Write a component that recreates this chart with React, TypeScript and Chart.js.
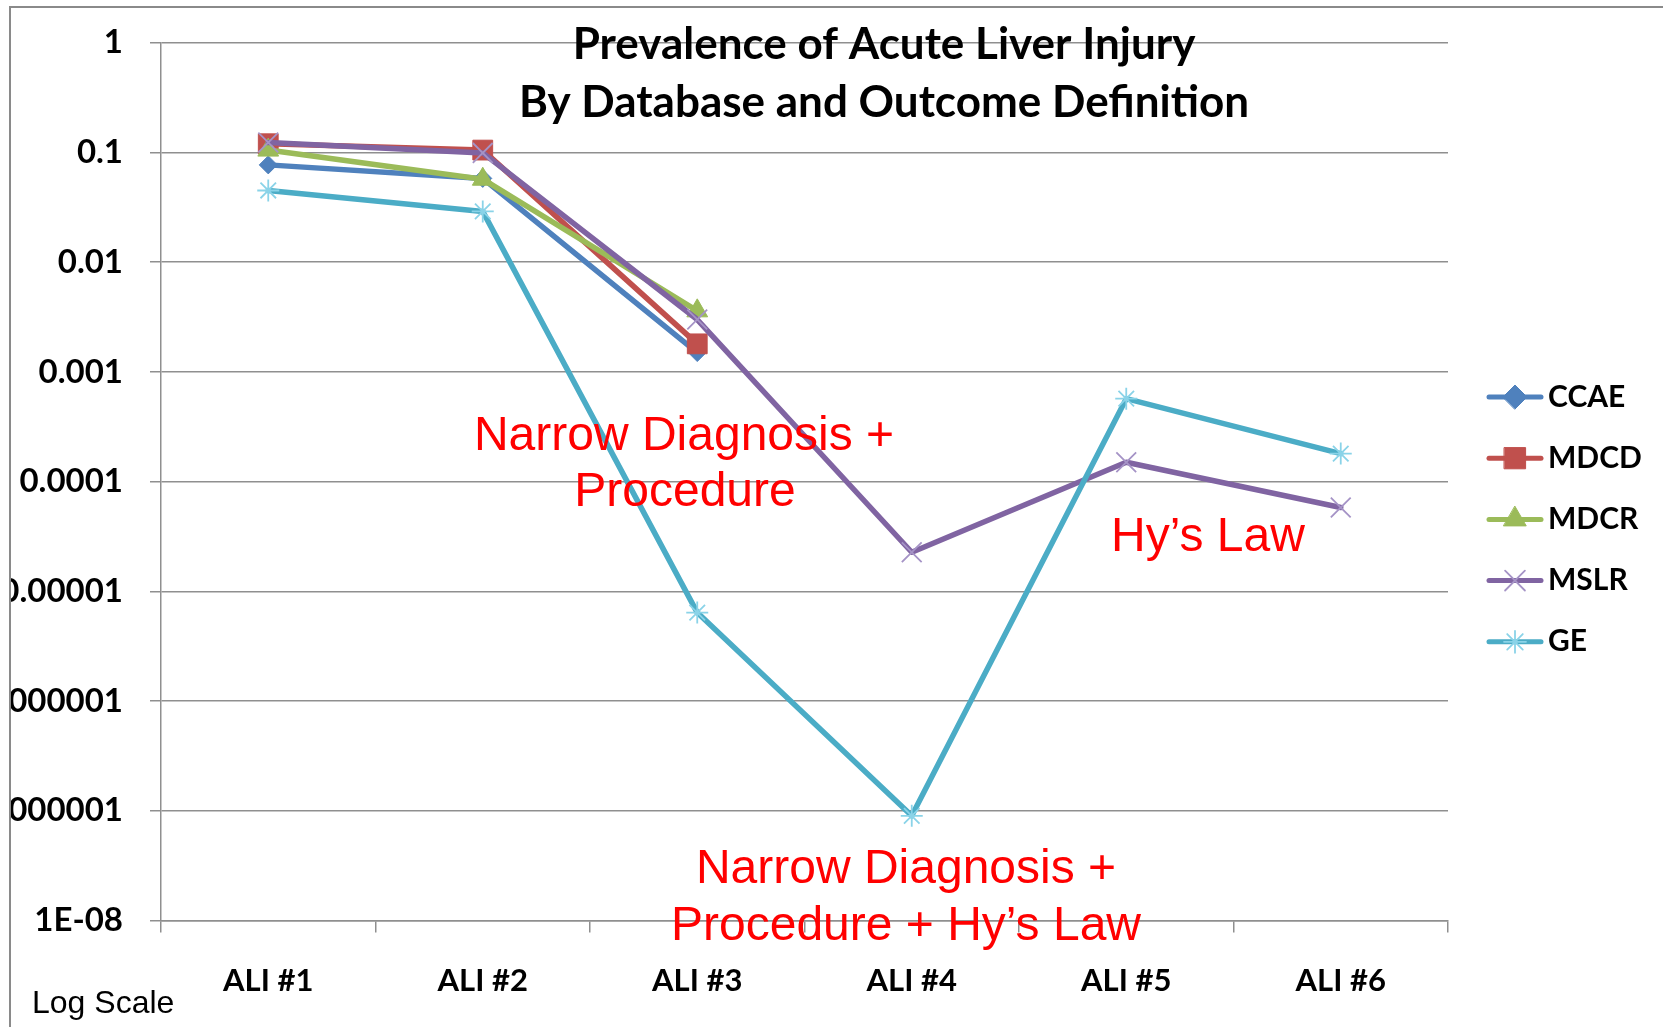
import React, { useEffect, useRef } from 'react';
import { Chart, registerables } from 'chart.js';
import { drawPoint } from 'chart.js/helpers';

Chart.register(...registerables);

// ---------- data ----------
const CATEGORIES = ['ALI #1', 'ALI #2', 'ALI #3', 'ALI #4', 'ALI #5', 'ALI #6'];
const SERIES_NAMES = ['CCAE', 'MDCD', 'MDCR', 'MSLR', 'GE'];
const CCAE = [0.077, 0.058, 0.0015, null, null, null];
const MDCD = [0.12, 0.105, 0.0018, null, null, null];
const MDCR = [0.105, 0.057, 0.0036, null, null, null];
const MSLR = [0.123, 0.099, 0.003, 0.0000227, 0.00015, 0.000058];
const GE = [0.045, 0.029, 0.0000064, 0.00000009, 0.00057, 0.00018];
const Y_TICKS = [1, 0.1, 0.01, 0.001, 0.0001, 0.00001, 0.000001, 0.0000001, 0.00000001];
const Y_TICK_LABELS = ['1', '0.1', '0.01', '0.001', '0.0001', '0.00001', '0.000001', '0.0000001', '1E-08'];
const TITLE_LINES = ['Prevalence of Acute Liver Injury', 'By Database and Outcome Definition'];
const NOTE_ALI3 = ['Narrow Diagnosis +', 'Procedure'];
const NOTE_ALI4 = ['Narrow Diagnosis +', 'Procedure + Hy\u2019s Law'];
const NOTE_ALI6 = ['Hy\u2019s Law'];
const AXIS_NOTE = 'Log Scale';

const SERIES = [CCAE, MDCD, MDCR, MSLR, GE];

// ---------- styles ----------
const STYLE = [
  { color: '#4F81BD', marker: 'rectRot', r: 9, lr: 12, fill: '#4F81BD', stroke: '#4F81BD', bw: 1 },
  { color: '#C0504D', marker: 'rect', r: 14, lr: 15, fill: '#C0504D', stroke: '#C0504D', bw: 1 },
  { color: '#9BBB59', marker: 'triangle', r: 12, lr: 13, fill: '#9BBB59', stroke: '#9BBB59', bw: 1 },
  { color: '#8064A2', marker: 'crossRot', r: 14, lr: 14, fill: '#A593C6', stroke: '#A593C6', bw: 1.8 },
  { color: '#4BACC6', marker: 'star', r: 11, lr: 11, fill: '#8AD3E8', stroke: '#8AD3E8', bw: 1.8 },
];

const W = 1652;
const H = 1019;
const AREA_TOP = 34.7;
const AREA_BOTTOM = 912.5;
const GRID = '#8f8f8f';
const X_TICK_FONT = { family: 'Lato', weight: 'bold' as const, size: 31 };
const Y_TICK_FONT = { family: 'Lato', weight: 'bold' as const, size: 33 };

const overlayPlugin = {
  id: 'overlayTexts',
  afterDraw(chart: any) {
    const ctx = chart.ctx as CanvasRenderingContext2D;
    ctx.save();
    // title
    ctx.fillStyle = '#000';
    ctx.textAlign = 'center';
    ctx.textBaseline = 'middle';
    ctx.font = 'bold 44px Lato';
    ctx.fillText(TITLE_LINES[0], 873, 37);
    ctx.fillText(TITLE_LINES[1], 873, 95);

    // annotations
    ctx.fillStyle = '#FF0000';
    ctx.font = '48px "Liberation Sans", Arial, sans-serif';
    ctx.fillText(NOTE_ALI3[0], 673, 429);
    ctx.fillText(NOTE_ALI3[1], 674, 485);
    ctx.fillText(NOTE_ALI6[0], 1197, 530);
    ctx.fillText(NOTE_ALI4[0], 895, 862);
    ctx.fillText(NOTE_ALI4[1], 895, 919);

    // log scale note
    ctx.fillStyle = '#000';
    ctx.textAlign = 'left';
    ctx.font = '32px "Liberation Sans", Arial, sans-serif';
    ctx.fillText(AXIS_NOTE, 21, 996);

    // legend
    chart.data.datasets.forEach((ds: any, i: number) => {
      const y = 389 + i * 61.2;
      const st = STYLE[i];
      ctx.strokeStyle = ds.borderColor;
      ctx.lineWidth = 5;
      ctx.lineCap = 'round';
      ctx.beginPath();
      ctx.moveTo(1478, y);
      ctx.lineTo(1530, y);
      ctx.stroke();
      ctx.fillStyle = st.fill;
      ctx.strokeStyle = st.stroke;
      ctx.lineWidth = st.bw;
      drawPoint(ctx, { pointStyle: st.marker as any, radius: st.lr, rotation: 0, borderWidth: st.bw }, 1504, y);
      ctx.fillStyle = '#000';
      ctx.textAlign = 'left';
      ctx.textBaseline = 'middle';
      ctx.font = 'bold 30px Lato';
      ctx.fillText(ds.label, 1537, y);
    });
    ctx.restore();
  },
};

export default function App() {
  const ref = useRef<HTMLCanvasElement | null>(null);

  useEffect(() => {
    if (!ref.current) return;
    const chart = new Chart(ref.current, {
      type: 'line',
      data: {
        labels: CATEGORIES,
        datasets: SERIES.map((s, i) => ({
          label: SERIES_NAMES[i],
          data: s,
          borderColor: STYLE[i].color,
          backgroundColor: STYLE[i].color,
          borderWidth: 5.5,
          borderJoinStyle: 'round' as const,
          borderCapStyle: 'round' as const,
          tension: 0,
          pointStyle: STYLE[i].marker as any,
          pointRadius: STYLE[i].r,
          pointHoverRadius: STYLE[i].r,
          pointBackgroundColor: STYLE[i].fill,
          pointBorderColor: STYLE[i].stroke,
          pointBorderWidth: STYLE[i].bw,
          order: SERIES.length - i,
          spanGaps: false,
          clip: false as any,
        })),
      },
      options: {
        animation: false,
        responsive: false,
        devicePixelRatio: 1,
        events: [],
        layout: { padding: { left: 0, top: AREA_TOP, right: 215, bottom: 0 } },
        plugins: {
          legend: { display: false },
          title: { display: false },
          tooltip: { enabled: false },
        },
        scales: {
          x: {
            type: 'category',
            offset: true,
            grid: {
              display: true,
              offset: true,
              drawOnChartArea: false,
              drawTicks: true,
              tickLength: 12,
              color: GRID,
              lineWidth: 1.5,
            },
            border: { display: true, color: GRID, width: 1.5 },
            ticks: { color: '#000', font: X_TICK_FONT, padding: 30, maxRotation: 0, autoSkip: false },
            afterFit: (scale: any) => {
              scale.height = H - AREA_BOTTOM;
              scale.paddingLeft = 0;
              scale.paddingRight = 0;
            },
          },
          y: {
            type: 'logarithmic',
            min: 1e-8,
            max: 1,
            grid: {
              display: true,
              drawOnChartArea: true,
              drawTicks: true,
              tickLength: 11,
              color: GRID,
              lineWidth: 1.5,
            },
            border: { display: true, color: GRID, width: 1.5 },
            ticks: {
              color: '#000',
              font: Y_TICK_FONT,
              padding: 27,
              autoSkip: false,
              callback: (value: any) => {
                const idx = Y_TICKS.findIndex((t) => Math.abs(Math.log10(t) - Math.log10(Number(value))) < 1e-6);
                return idx >= 0 ? Y_TICK_LABELS[idx] : '';
              },
            },
            afterBuildTicks: (scale: any) => {
              scale.ticks = Y_TICKS.map((v) => ({ value: v }));
            },
            afterFit: (scale: any) => {
              scale.width = 150;
              scale.paddingTop = 0;
              scale.paddingBottom = 0;
            },
          },
        },
      },
      plugins: [overlayPlugin],
    });
    return () => chart.destroy();
  }, []);

  return (
    <div style={{ position: 'absolute', left: 0, top: 0, width: 1663, height: 1027, overflow: 'hidden', background: '#fff' }}>
      <div
        style={{
          position: 'absolute',
          left: 9,
          top: 6,
          right: -10,
          bottom: -10,
          borderLeft: '2px solid #8a8a8a',
          borderTop: '2px solid #8a8a8a',
        }}
      />
      <canvas ref={ref} width={W} height={H} style={{ position: 'absolute', left: 11, top: 8, display: 'block' }} />
    </div>
  );
}
